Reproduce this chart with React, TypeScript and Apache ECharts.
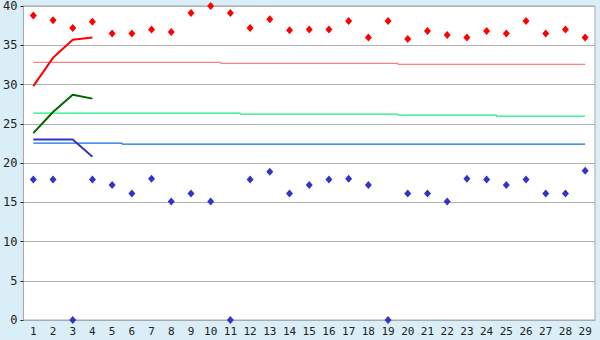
import React, { useEffect, useRef } from "react";
import * as echarts from "echarts";

const categories = Array.from({ length: 29 }, (_, i) => String(i + 1));
const yTicks = { min: 0, max: 40, interval: 5 };

const redPoints = [38.8, 38.2, 37.2, 38.0, 36.5, 36.5, 37.0, 36.7, 39.1, 40.0, 39.1, 37.2, 38.3, 36.9, 37.0, 37.0, 38.1, 36.0, 38.1, 35.8, 36.8, 36.3, 36.0, 36.8, 36.5, 38.1, 36.5, 37.0, 36.0];
const bluePoints = [17.9, 17.9, 0, 17.9, 17.2, 16.1, 18.0, 15.1, 16.1, 15.1, 0, 17.9, 18.9, 16.1, 17.2, 17.9, 18.0, 17.2, 0, 16.1, 16.1, 15.1, 18.0, 17.9, 17.2, 17.9, 16.1, 16.1, 19.0];

const pinkRef = [32.83, 32.83, 32.83, 32.83, 32.83, 32.83, 32.83, 32.83, 32.83, 32.83, 32.7, 32.7, 32.7, 32.7, 32.7, 32.7, 32.7, 32.7, 32.7, 32.57, 32.57, 32.57, 32.57, 32.57, 32.57, 32.57, 32.57, 32.57, 32.57];
const greenRef = [26.35, 26.35, 26.35, 26.35, 26.35, 26.35, 26.35, 26.35, 26.35, 26.35, 26.35, 26.22, 26.22, 26.22, 26.22, 26.22, 26.22, 26.22, 26.22, 26.1, 26.1, 26.1, 26.1, 26.1, 25.97, 25.97, 25.97, 25.97, 25.97];
const blueRef = [22.54, 22.54, 22.54, 22.54, 22.54, 22.41, 22.41, 22.41, 22.41, 22.41, 22.41, 22.41, 22.41, 22.41, 22.41, 22.41, 22.41, 22.41, 22.41, 22.41, 22.41, 22.41, 22.41, 22.41, 22.41, 22.41, 22.41, 22.41, 22.41];

const redCurve = [29.8, 33.4, 35.7, 36.0];
const greenCurve = [23.8, 26.5, 28.7, 28.2];
const blueCurve = [23.0, 23.0, 23.0, 20.8];

export default function App() {
  const ref = useRef<HTMLDivElement>(null);
  useEffect(() => {
    if (!ref.current) return;
    const chart = echarts.init(ref.current, undefined, { renderer: "svg" });
    const refLine = (data: number[], color: string) => ({
      type: "line",
      data,
      step: "middle",
      symbol: "none",
      lineStyle: { color, width: 1.2 },
      z: 2,
    });
    const curve = (data: number[], color: string) => ({
      type: "line",
      data,
      symbol: "none",
      lineStyle: { color, width: 2 },
      z: 3,
    });
    const points = (data: number[], color: string) => ({
      type: "scatter",
      data,
      symbol: "diamond",
      symbolSize: [7, 8],
      itemStyle: { color, opacity: 1 },
      z: 4,
    });
    chart.setOption({
      animation: false,
      backgroundColor: "#D9EEF6",
      grid: {
        left: 20,
        right: 5,
        top: 5,
        bottom: 20,
        show: true,
        backgroundColor: "#FFFFFF",
        borderColor: "#AAAAAA",
        borderWidth: 1,
      },
      xAxis: {
        type: "category",
        data: categories,
        boundaryGap: true,
        axisLine: { lineStyle: { color: "#AAAAAA", width: 1 } },
        axisTick: { alignWithLabel: true, length: 5, lineStyle: { color: "#222222" } },
        axisLabel: {
          color: "#222222",
          fontSize: 11,
          fontFamily: "DejaVu Sans Mono",
          margin: 6,
          interval: 0,
        },
        splitLine: { show: false },
      },
      yAxis: {
        type: "value",
        min: yTicks.min,
        max: yTicks.max,
        interval: yTicks.interval,
        axisLine: { show: true, lineStyle: { color: "#AAAAAA", width: 1 } },
        axisTick: { show: true, length: 3, lineStyle: { color: "#222222" } },
        axisLabel: {
          color: "#222222",
          fontSize: 12,
          fontFamily: "DejaVu Sans Mono",
          margin: 6,
        },
        splitLine: { show: true, lineStyle: { color: "#B0B0B0", width: 1 } },
      },
      series: [
        refLine(pinkRef, "#FF8080"),
        refLine(greenRef, "#19F080"),
        refLine(blueRef, "#1070E0"),
        curve(redCurve, "#FF0000"),
        curve(greenCurve, "#006600"),
        curve(blueCurve, "#3333CC"),
        points(redPoints, "#FF0000"),
        points(bluePoints, "#3333CC"),
      ],
    });
    return () => chart.dispose();
  }, []);
  return <div ref={ref} style={{ width: 600, height: 340, position: "absolute", left: 0, top: 0 }} />;
}
